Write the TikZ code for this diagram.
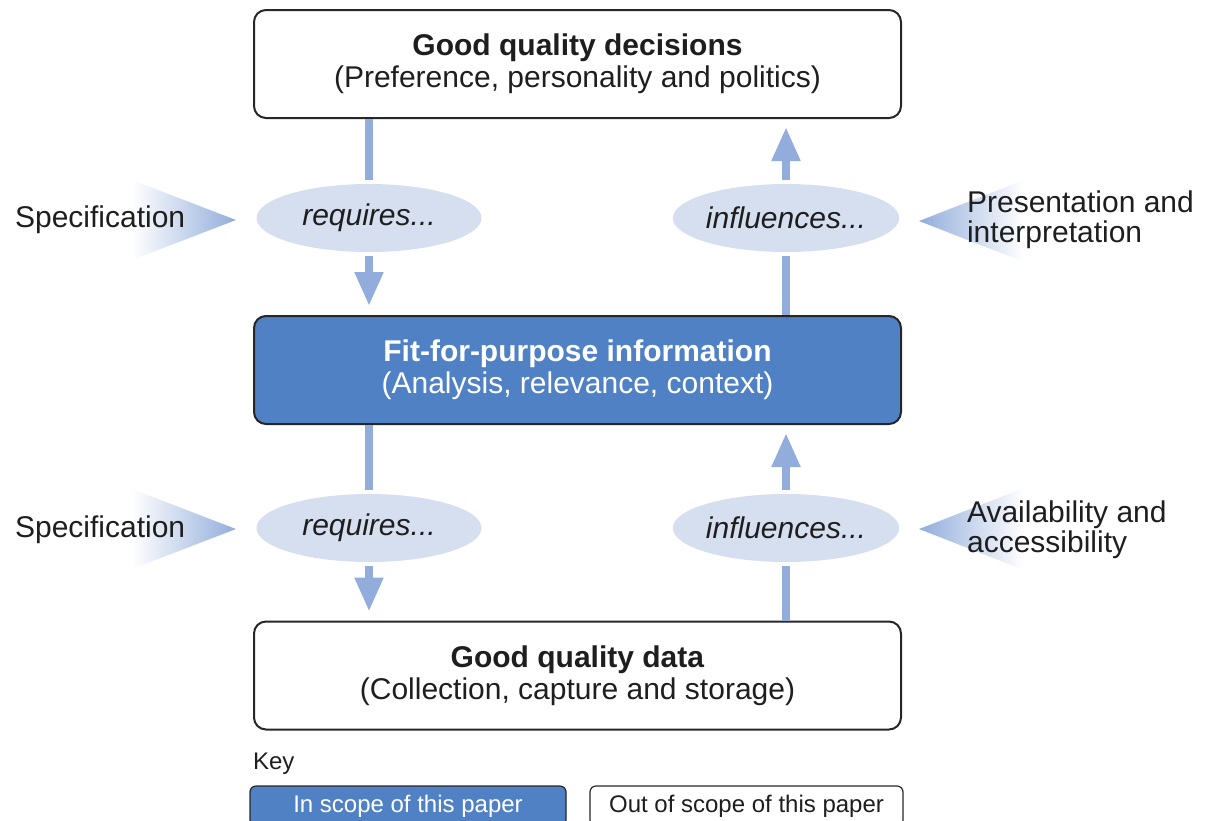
\documentclass[tikz,border=0pt]{standalone}
\usepackage{fontspec}
\setmainfont{Liberation Sans}
\usetikzlibrary{arrows.meta,shapes.geometric,calc}
\definecolor{boxblue}{RGB}{79,129,196}
\definecolor{arrowc}{RGB}{146,173,219}
\definecolor{ellc}{RGB}{214,223,240}
\definecolor{txt}{RGB}{30,30,30}
\tikzset{
  bigbox/.style={draw=black!85, line width=1pt, rounded corners=6pt, minimum width=323.5pt, minimum height=54pt, align=center, font=\fontsize{15}{16}\selectfont, text=txt},
  inbox/.style={bigbox, fill=boxblue, text=white},
  oval/.style={ellipse, fill=ellc, minimum width=112.5pt, minimum height=34pt, inner sep=0pt, font=\fontsize{15}{16}\selectfont\itshape, text=txt},
  shaft/.style={draw=arrowc, line width=4pt},
  arr/.style={shaft, -{Triangle[width=13.5pt,length=17pt]}},
  side/.style={font=\fontsize{15}{15}\selectfont, text=txt, align=left},
  keyin/.style={draw=black!85, line width=0.6pt, rounded corners=3pt, fill=boxblue, text=white, minimum height=20pt, font=\fontsize{12}{13}\selectfont},
  keyout/.style={keyin, fill=white, text=txt},
}
\begin{document}
\begin{tikzpicture}[x=0.5pt,y=-0.5pt]
\useasboundingbox (0,0) rectangle (1215,820);

% gradient triangles
\shade[left color=white, right color=arrowc] (132,180) -- (236,220) -- (132,260) -- cycle;
\shade[left color=arrowc, right color=white] (1024,180) -- (1024,262) -- (919,221) -- cycle;
\shade[left color=white, right color=arrowc] (132,489) -- (236,529) -- (132,569) -- cycle;
\shade[left color=arrowc, right color=white] (1024,488) -- (1024,570) -- (919,529) -- cycle;

% boxes
\node[bigbox] (top) at (577.5,64) {\textbf{Good quality decisions}\\(Preference, personality and politics)};
\node[inbox] (mid) at (577.5,370) {\textbf{Fit-for-purpose information}\\(Analysis, relevance, context)};
\node[bigbox] (bot) at (577.5,675.5) {\textbf{Good quality data}\\(Collection, capture and storage)};

% ovals
\node[oval] (req1) at (369,218) {requires...};
\node[oval] (inf1) at (786,218) {influences...};
\node[oval] (req2) at (369,528) {requires...};
\node[oval] (inf2) at (786,528) {influences...};

% side labels
\node[side, anchor=west] (spec1) at (8,220) {Specification};
\node[side, anchor=west] (pres) at (960,220) {Presentation and\\interpretation};
\node[side, anchor=west] (spec2) at (8,530) {Specification};
\node[side, anchor=west] (avail) at (960,530) {Availability and\\accessibility};

% connectors
\draw[shaft, shorten >=2pt] (top.south -| req1.center) -- (req1.north);
\draw[arr, shorten <=2pt, shorten >=4.5pt] (req1.south) -- (mid.north -| req1.center);
\draw[shaft, shorten >=2pt] (mid.north -| inf1.center) -- (inf1.south);
\draw[arr, shorten <=2pt, shorten >=4pt] (inf1.north) -- (top.south -| inf1.center);

\draw[shaft, shorten >=2pt] (mid.south -| req2.center) -- (req2.north);
\draw[arr, shorten <=2pt, shorten >=4.5pt] (req2.south) -- (bot.north -| req2.center);
\draw[shaft, shorten >=2pt] (bot.north -| inf2.center) -- (inf2.south);
\draw[arr, shorten <=2pt, shorten >=4pt] (inf2.north) -- (mid.south -| inf2.center);

% key
\node[anchor=west, font=\fontsize{12}{13}\selectfont, text=txt] (key) at (246,764) {Key};
\node[keyin, minimum width=158pt] (kin) at (408,806) {In scope of this paper};
\node[keyout, minimum width=156.5pt] (kout) at (746.5,806) {Out of scope of this paper};
\end{tikzpicture}
\end{document}
